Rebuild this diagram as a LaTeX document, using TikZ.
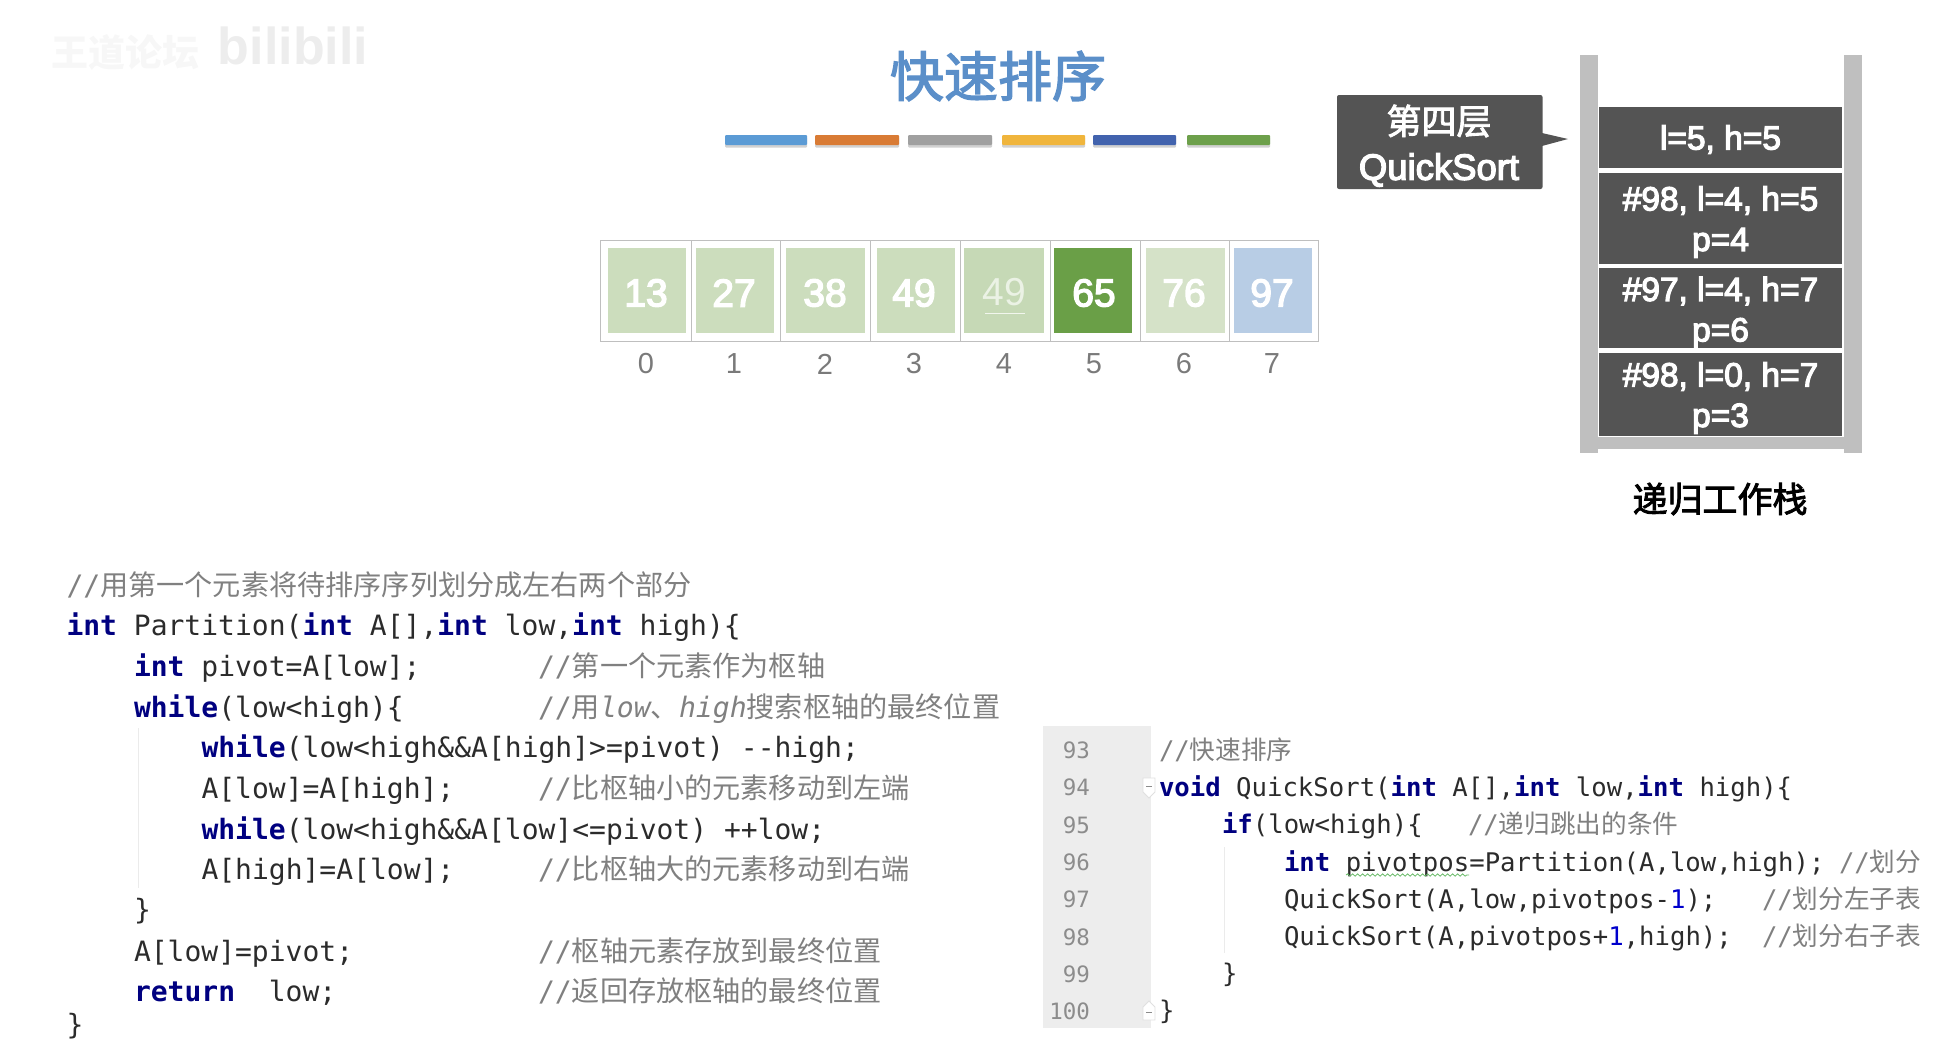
\documentclass[tikz,border=0pt]{standalone}
\usepackage{fontspec}
\usetikzlibrary{decorations.pathmorphing}
\setmainfont{Liberation Sans}
\setmonofont{DejaVu Sans Mono}
\newfontfamily\cjk{Noto Sans CJK SC}
\newfontfamily\semi[FakeBold=3.5]{Liberation Sans}
\newfontfamily\semicjk[FakeBold=2.5]{Noto Sans CJK SC}
\newcommand\fz[1]{\fontsize{#1}{#1}\selectfont}
\definecolor{kwc}{HTML}{000080}
\definecolor{cmc}{HTML}{808080}
\definecolor{codec}{HTML}{2B2B2B}
\definecolor{dark}{HTML}{545454}
\definecolor{wall}{HTML}{BFBFBF}
\definecolor{titleblue}{HTML}{5B8FC9}
\definecolor{cella}{HTML}{CCDDBD}
\definecolor{cellb}{HTML}{C6D9B6}
\definecolor{cellc}{HTML}{6A9F47}
\definecolor{celld}{HTML}{D5E2C8}
\definecolor{celle}{HTML}{B8CDE5}
\newcommand\kw[1]{{\color{kwc}\bfseries #1}}
\newcommand\cmt[1]{{\color{cmc}//{\cjk #1}}}
\newcommand\cmi[1]{{\itshape #1}}
\tikzset{
  x=1pt,y=-1pt,
  txt/.style={inner sep=0pt,outer sep=0pt,align=center},
  codeL/.style={txt,anchor=base west,text=codec,font=\ttfamily\fz{28}},
  codeR/.style={txt,anchor=base west,text=codec,font=\ttfamily\fz{25.65}},
  cmL/.style={txt,anchor=base west,font=\ttfamily\fz{28.15}},
  lnum/.style={txt,anchor=base east,text=black!45,font=\ttfamily\fz{22.5}},
  cellbox/.style={txt,minimum width=78pt,minimum height=85pt},
  celltxt/.style={txt,text=white,font=\semi\fz{39}},
  idx/.style={txt,text=black!52,font=\fz{29}},
  frame/.style={draw=black!25,line width=1pt,fill=white},
  bar/.style={rounded corners=1pt},
  barshadow/.style={fill=black!18,rounded corners=1pt},
  stackbox/.style={txt,fill=dark,minimum width=243pt},
  stacktxt/.style={txt,text=white,font=\semi\fz{33.5}},
  wallbox/.style={fill=wall},
}
\begin{document}
\begin{tikzpicture}
\useasboundingbox (0,0) rectangle (1939,1042);
% watermark
\node[txt,text=black!3,font=\cjk\bfseries\fz{37}] (wm1) at (125,52) {王道论坛};
\node[txt,text=black!7,font=\bfseries\fz{52}] (wm2) at (293,46) {bilibili};
% title
\node[txt,text=titleblue,font=\semicjk\fz{54}] (title) at (998,76) {快速排序};
% colour bars
\foreach \a/\b/\c in {725/807/5B9BD5,815/899/D97B35,908/992/A0A0A0,1002/1085/F0B53C,1093/1176/4263AE,1187/1270/6DA04B}{
  \definecolor{tmpc}{HTML}{\c}
  \fill[barshadow] (\a,137) rectangle (\b,147.5);
  \fill[bar,tmpc] (\a,135) rectangle (\b,145);
}
% array frame
\draw[frame] (600,240) rectangle (1318,341);
\foreach \x in {691,780,870,960,1050,1140,1229}{\draw[black!25,line width=1pt] (\x,240) -- (\x,341);}
% cells
\node[cellbox,fill=cella] (c0) at (647,290.5) {};
\node[cellbox,fill=cella] (c1) at (735,290.5) {};
\node[cellbox,fill=cella,minimum width=79pt] (c2) at (825.5,290.5) {};
\node[cellbox,fill=cella] (c3) at (915.5,290.5) {};
\node[cellbox,fill=cellb,minimum width=80pt] (c4) at (1004,290.5) {};
\node[cellbox,fill=cellc] (c5) at (1093,290.5) {};
\node[cellbox,fill=celld,minimum width=79pt] (c6) at (1185,290.5) {};
\node[cellbox,fill=celle] (c7) at (1273,290.5) {};
\foreach \i/\x/\v in {0/646/13,1/734/27,2/825/38,3/914/49,5/1094/65,6/1184/76,7/1272/97}{
  \node[celltxt] (t\i) at (\x,293) {\v};
}
\node[txt,text=white!65!cellb,font=\fz{39}] (t4) at (1004,292) {49};
\draw[white!75!cellb,line width=1.2pt] (985,313.5) -- (1025,313.5);
% indices
\foreach \i/\x in {0/646,1/734,2/825,3/914,4/1004,5/1094,6/1184,7/1272}{
  \node[idx] (i\i) at (\x,364) {\i};
}
% stack
\fill[wallbox] (1580,55) rectangle (1597.5,453);
\fill[wallbox] (1844,55) rectangle (1862,453);
\fill[wallbox] (1597,437) rectangle (1844,449);
\node[stackbox,minimum height=61pt] (s1) at (1720.5,137.5) {};
\node[stackbox,minimum height=91pt] (s2) at (1720.5,218.5) {};
\node[stackbox,minimum height=80pt] (s3) at (1720.5,308) {};
\node[stackbox,minimum height=83pt] (s4) at (1720.5,394.5) {};
\node[stacktxt] (s1t) at (1720.5,139.5) {l=5, h=5};
\node[stacktxt] (s2t) at (1720.5,222) {\#98, l=4, h=5\\[7pt]p=4};
\node[stacktxt] (s3t) at (1720.5,312.5) {\#97, l=4, h=7\\[7pt]p=6};
\node[stacktxt] (s4t) at (1720.5,398) {\#98, l=0, h=7\\[7pt]p=3};
\node[txt,text=black,font=\semicjk\fz{35}] (cap) at (1720,499) {递归工作栈};
% callout
\fill[dark,rounded corners=2pt] (1337,95) rectangle (1542.5,189);
\coordinate (tipa) at (1542,133);
\coordinate (tipb) at (1568,139);
\coordinate (tipc) at (1542,146);
\fill[dark] (tipa) -- (tipb) -- (tipc) -- cycle;
\node[txt,text=white,font=\semicjk\fz{35}] (cl1) at (1439,121) {第四层};
\node[txt,text=white,font=\semi\fz{36.5}] (cl2) at (1439,170) {QuickSort};
% left code
\draw[black!8,line width=1pt] (138,728) -- (138,888);
\node[cmL] (l0) at (66.5,595) {\cmt{用第一个元素将待排序序列划分成左右两个部分}};
\node[codeL] (l1) at (66.5,635) {\kw{int} Partition(\kw{int} A[],\kw{int} low,\kw{int} high)\{};
\node[codeL] (l2) at (134,676) {\kw{int} pivot=A[low];};
\node[cmL] (l2c) at (538,676) {\cmt{第一个元素作为枢轴}};
\node[codeL] (l3) at (134,717) {\kw{while}(low<high)\{};
\node[cmL] (l3c) at (538,717) {{\color{cmc}//{\cjk 用}\cmi{low}{\cjk 、}\cmi{high}{\cjk 搜索枢轴的最终位置}}};
\node[codeL] (l4) at (201.5,757) {\kw{while}(low<high\&\&A[high]>=pivot) --high;};
\node[codeL] (l5) at (201.5,798) {A[low]=A[high];};
\node[cmL] (l5c) at (538,798) {\cmt{比枢轴小的元素移动到左端}};
\node[codeL] (l6) at (201.5,839) {\kw{while}(low<high\&\&A[low]<=pivot) ++low;};
\node[codeL] (l7) at (201.5,879) {A[high]=A[low];};
\node[cmL] (l7c) at (538,879) {\cmt{比枢轴大的元素移动到右端}};
\node[codeL] (l8) at (134,919) {\}};
\node[codeL] (l9) at (134,961) {A[low]=pivot;};
\node[cmL] (l9c) at (538,961) {\cmt{枢轴元素存放到最终位置}};
\node[codeL] (l10) at (134,1001) {\kw{return}\ \ low;};
\node[cmL] (l10c) at (538,1001) {\cmt{返回存放枢轴的最终位置}};
\node[codeL] (l11) at (66.5,1034.5) {\}};
% right code
\fill[black!7] (1043,726) rectangle (1150.5,1028);
\foreach \n/\y in {93/758,94/795,95/833,96/870,97/907,98/945,99/982,100/1019}{
  \node[lnum] (n\n) at (1090,\y) {\n};
}
\draw[black!8,line width=1pt] (1224,847) -- (1224,953);
\node[codeR] (r0) at (1159,759) {\cmt{快速排序}};
\node[codeR] (r1) at (1159,796) {\kw{void} QuickSort(\kw{int} A[],\kw{int} low,\kw{int} high)\{};
\node[codeR] (r2) at (1222,833) {\kw{if}(low<high)\{};
\node[codeR] (r2c) at (1468,833) {\cmt{递归跳出的条件}};
\node[codeR] (r3) at (1284,871) {\kw{int} pivotpos=Partition(A,low,high);};
\node[codeR] (r3c) at (1839,871) {\cmt{划分}};
\node[codeR] (r4) at (1284,908) {QuickSort(A,low,pivotpos-{\color{blue!80!black}1});};
\node[codeR] (r4c) at (1762,908) {\cmt{划分左子表}};
\node[codeR] (r5) at (1284,945) {QuickSort(A,pivotpos+{\color{blue!80!black}1},high);};
\node[codeR] (r5c) at (1762,945) {\cmt{划分右子表}};
\node[codeR] (r6) at (1222,982) {\}};
\node[codeR] (r7) at (1159,1019) {\}};
\draw[green!55!black!60,line width=.8pt,decorate,decoration={snake,amplitude=1.2pt,segment length=5pt}] (1346,875) -- (1469,875);
% fold markers
\draw[black!12,fill=white,line width=.8pt] (1143,778) -- (1155,778) -- (1155,792) -- (1149,798) -- (1143,792) -- cycle;
\draw[black!45,line width=.7pt] (1146,786) -- (1152,786);
\draw[black!12,fill=white,line width=.8pt] (1143,1020) -- (1155,1020) -- (1155,1007) -- (1149,1001) -- (1143,1007) -- cycle;
\draw[black!45,line width=.7pt] (1146,1012) -- (1152,1012);
\end{tikzpicture}
\end{document}
